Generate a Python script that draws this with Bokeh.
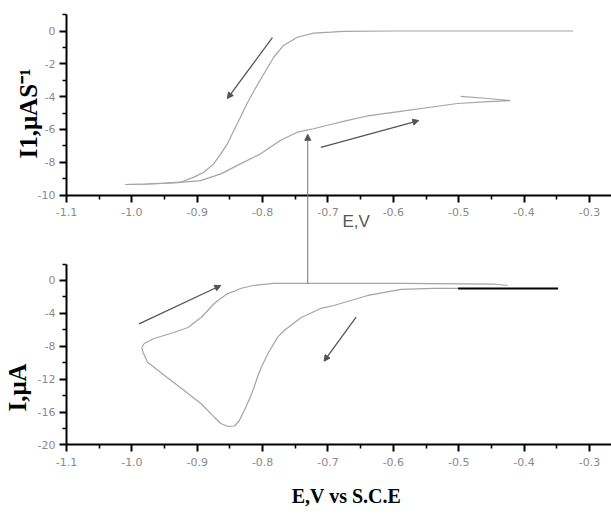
import math

from bokeh.embed import file_html
from bokeh.models import (Arrow, FixedTicker, Label, LinearAxis, NormalHead,
                          NumeralTickFormatter, Range1d)
from bokeh.plotting import figure
from bokeh.resources import INLINE

# ---------------- data ----------------
# Convoluted current I1 (upper panel): cathodic sweep, then the return sweep
conv_fwd_e = [-0.325, -0.45, -0.60, -0.676, -0.696, -0.722, -0.747, -0.768,
              -0.783, -0.798, -0.813, -0.824, -0.834, -0.844, -0.854, -0.864,
              -0.875, -0.890, -0.905, -0.926, -0.950, -0.980, -1.010]
conv_fwd_i = [0.0, 0.0, 0.0, -0.02, -0.07, -0.13, -0.38, -0.88,
              -1.60, -2.61, -3.63, -4.44, -5.26, -6.07, -6.88, -7.49,
              -8.10, -8.61, -8.91, -9.22, -9.28, -9.33, -9.36]
conv_rev_e = [-1.010, -0.970, -0.930, -0.895, -0.864, -0.834, -0.803, -0.773,
              -0.747, -0.722, -0.696, -0.670, -0.640, -0.589, -0.538, -0.502,
              -0.455, -0.421, -0.460, -0.497]
conv_rev_i = [-9.36, -9.33, -9.25, -9.12, -8.71, -8.10, -7.49, -6.68,
              -6.17, -5.96, -5.70, -5.45, -5.18, -4.90, -4.62, -4.42,
              -4.30, -4.24, -4.10, -3.99]

# Cyclic voltammogram I (lower panel)
cv_cath_e = [-0.501, -0.538, -0.588, -0.639, -0.691, -0.711, -0.741, -0.767,
             -0.777, -0.792, -0.802, -0.808, -0.813, -0.820, -0.828, -0.836,
             -0.843, -0.853, -0.864, -0.874, -0.894, -0.920, -0.950, -0.976,
             -0.983, -0.985]
cv_cath_i = [-0.97, -0.97, -1.09, -1.82, -3.04, -3.40, -4.50, -6.08,
             -6.89, -8.91, -10.54, -11.76, -12.97, -14.39, -15.81, -17.08,
             -17.69, -17.75, -17.39, -16.62, -14.99, -13.37, -11.55, -9.93,
             -8.72, -8.15]
cv_anod_e = [-0.985, -0.981, -0.966, -0.936, -0.914, -0.905, -0.894, -0.884,
             -0.874, -0.864, -0.853, -0.843, -0.834, -0.814, -0.783, -0.726,
             -0.588, -0.446, -0.425]
cv_anod_i = [-8.15, -7.66, -7.05, -6.32, -5.71, -5.14, -4.50, -3.65,
             -2.80, -2.15, -1.58, -1.30, -0.97, -0.61, -0.36, -0.36,
             -0.36, -0.43, -0.61]
base_e = [-0.501, -0.348]
base_i = [-0.97, -0.97]

# scan-direction arrows: (e_start, i_start, e_end, i_end)
conv_arrows = [(-0.785, -0.40, -0.854, -4.12),
               (-0.711, -7.10, -0.561, -5.46)]
cv_arrows = [(-0.989, -5.27, -0.864, -0.61),
             (-0.657, -4.46, -0.706, -9.81)]
# link from the voltammogram up to the convoluted curve at the same potential
link_e = -0.731
link_cv_i = -0.36
link_conv_i = -6.3

# ticks
e_ticks = [-1.1, -1.0, -0.9, -0.8, -0.7, -0.6, -0.5, -0.4, -0.3]
e_minor = [-1.05, -0.95, -0.85, -0.75, -0.65, -0.55, -0.45, -0.35]
conv_ticks = [0, -2, -4, -6, -8, -10]
conv_minor = [1, -1, -3, -5, -7, -9]
cv_ticks = [0, -4, -8, -12, -16, -20]
cv_minor = [2, -2, -6, -10, -14, -18]

# ---------------- figure ----------------
W, H = 611, 514
E_RANGE = (-1.201, -0.2663)
CV_RANGE = (-28.45, 34.04)
CONV_RANGE = (-29.48, 1.86)

p = figure(width=W, height=H, output_backend="svg", toolbar_location=None,
           x_axis_type=None, y_axis_type=None,
           x_range=Range1d(*E_RANGE), y_range=Range1d(*CV_RANGE),
           min_border=0, outline_line_color=None)
p.extra_y_ranges = {"conv": Range1d(*CONV_RANGE)}
p.background_fill_color = "white"
p.border_fill_color = "white"

CURVE = "#a4a4a4"
ARROW = "#555555"


def style_axis(ax, horizontal):
    ax.axis_line_color = "black"
    ax.axis_line_width = 2
    ax.major_tick_line_color = "black"
    ax.major_tick_line_width = 2
    ax.minor_tick_line_color = "black"
    ax.minor_tick_line_width = 1.6
    ax.major_tick_in = 0
    ax.major_tick_out = 7
    ax.minor_tick_in = 0
    ax.minor_tick_out = 4
    ax.major_label_text_color = "#8a8a8a"
    ax.major_label_text_font = "DejaVu Sans"
    ax.major_label_text_font_size = "11px"
    ax.major_label_standoff = 6 if horizontal else 4


def h_axis(range_name, loc):
    kw = {"y_range_name": range_name} if range_name else {}
    ax = LinearAxis(fixed_location=loc, bounds=(-1.1, E_RANGE[1]),
                    ticker=FixedTicker(ticks=e_ticks, minor_ticks=e_minor),
                    formatter=NumeralTickFormatter(format="0.0"), **kw)
    style_axis(ax, True)
    p.add_layout(ax, "below")


def v_axis(range_name, ticks, minor, bounds):
    kw = {"y_range_name": range_name} if range_name else {}
    ax = LinearAxis(fixed_location=-1.1, bounds=bounds,
                    ticker=FixedTicker(ticks=ticks, minor_ticks=minor),
                    formatter=NumeralTickFormatter(format="0"), **kw)
    style_axis(ax, False)
    p.add_layout(ax, "left")


h_axis("conv", -10)
h_axis(None, -20)
v_axis("conv", conv_ticks, conv_minor, (-10, 1))
v_axis(None, cv_ticks, cv_minor, (-20, 2))

# curves
p.line(conv_fwd_e, conv_fwd_i, y_range_name="conv", line_color=CURVE, line_width=1.2)
p.line(conv_rev_e, conv_rev_i, y_range_name="conv", line_color=CURVE, line_width=1.2)
p.line(cv_cath_e, cv_cath_i, line_color=CURVE, line_width=1.2)
p.line(cv_anod_e, cv_anod_i, line_color=CURVE, line_width=1.2)
p.line(base_e, base_i, line_color="black", line_width=2)


def head():
    return NormalHead(size=6, fill_color=ARROW, line_color=ARROW, line_width=1)


for xs, ys, xe, ye in conv_arrows:
    p.add_layout(Arrow(x_start=xs, y_start=ys, x_end=xe, y_end=ye, y_range_name="conv",
                       end=head(), line_color=ARROW, line_width=1.3))
for xs, ys, xe, ye in cv_arrows:
    p.add_layout(Arrow(x_start=xs, y_start=ys, x_end=xe, y_end=ye,
                       end=head(), line_color=ARROW, line_width=1.3))

# the vertical link starts on the lower panel; express that point on the upper scale
cv_span = CV_RANGE[1] - CV_RANGE[0]
conv_span = CONV_RANGE[1] - CONV_RANGE[0]
link_start = CONV_RANGE[0] + (link_cv_i - CV_RANGE[0]) * conv_span / cv_span
p.add_layout(Arrow(x_start=link_e, y_start=link_start, x_end=link_e, y_end=link_conv_i,
                   y_range_name="conv", end=head(), line_color="#777777", line_width=1.0))

# titles
serif = "Liberation Serif"
p.add_layout(Label(x=28, y=H - 113, x_units="screen", y_units="screen",
                   text="I1,\u03bcAS\u207b\u00b9", angle=math.pi / 2,
                   text_align="center", text_baseline="middle",
                   text_font=serif, text_font_style="bold", text_font_size="25px",
                   text_color="black"))
p.add_layout(Label(x=17, y=H - 387, x_units="screen", y_units="screen",
                   text="I,\u03bcA", angle=math.pi / 2,
                   text_align="center", text_baseline="middle",
                   text_font=serif, text_font_style="bold", text_font_size="25px",
                   text_color="black"))
p.add_layout(Label(x=346, y=H - 495, x_units="screen", y_units="screen",
                   text="E,V vs S.C.E", text_align="center", text_baseline="middle",
                   text_font=serif, text_font_style="bold", text_font_size="20px",
                   text_color="black"))
p.add_layout(Label(x=342, y=H - 211, x_units="screen", y_units="screen",
                   text="E,V", text_align="left", text_baseline="top",
                   text_font="Liberation Sans", text_font_size="17px",
                   text_color="#555555"))

open("out.html", "w").write(file_html(p, INLINE))
